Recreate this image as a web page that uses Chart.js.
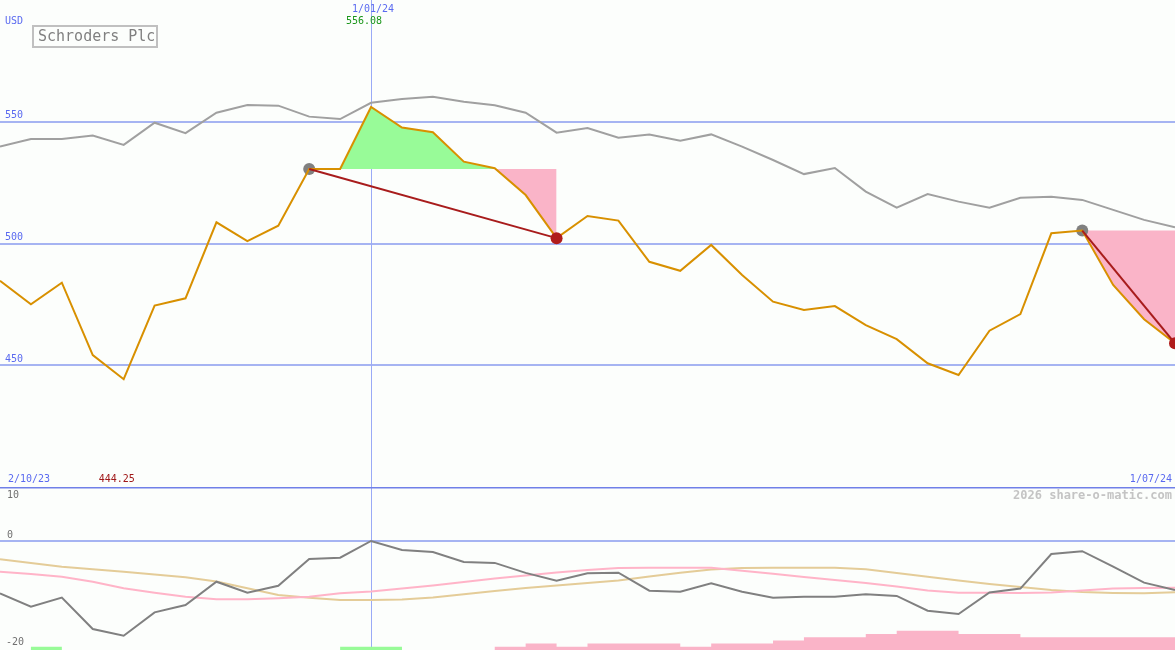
<!DOCTYPE html>
<html>
<head>
<meta charset="utf-8">
<title>Schroders Plc</title>
<script src="https://cdn.jsdelivr.net/npm/chart.js@4.4.1/dist/chart.umd.min.js"></script>
<style>
  html, body { margin: 0; padding: 0; background: #fcfefc; }
  #wrap { position: relative; width: 1175px; height: 650px; overflow: hidden; }
  canvas { position: absolute; left: 0; }
  #top { top: 0; }
  #bottom { top: 487px; }
</style>
</head>
<body>
<div id="wrap">
  <canvas id="top" width="1175" height="487"></canvas>
  <canvas id="bottom" width="1175" height="163"></canvas>
</div>
<script>
// weekly closes, USD
var price = [484.7, 475.0, 483.9, 454.2, 444.25, 474.5, 477.5, 508.7, 501.0, 507.3,
             530.6, 530.6, 556.08, 547.6, 545.7, 533.6, 530.9, 519.9, 502.2, 511.3,
             509.4, 492.5, 488.8, 499.4, 487.1, 476.1, 472.7, 474.3, 466.5, 460.7,
             450.8, 446.0, 464.2, 471.0, 504.2, 505.3, 483.0, 468.9, 459.0];
// grey comparison line
var bench = [539.8, 542.9, 542.9, 544.3, 540.5, 549.6, 545.3, 553.7, 556.9, 556.6,
             552.1, 551.1, 557.8, 559.3, 560.3, 558.2, 556.8, 553.7, 545.5, 547.4,
             543.4, 544.8, 542.2, 544.8, 539.8, 534.3, 528.5, 531.0, 521.3, 514.7,
             520.3, 517.2, 514.7, 518.8, 519.2, 517.9, 513.8, 509.7, 506.7];
// lower panel
var relLine = [-11.0, -13.8, -11.9, -18.5, -19.9, -15.0, -13.45, -8.55, -10.85, -9.4,
               -3.8, -3.5, 0, -1.9, -2.3, -4.4, -4.6, -6.7, -8.35, -6.8,
               -6.65, -10.45, -10.65, -8.9, -10.65, -11.9, -11.7, -11.7, -11.2, -11.55,
               -14.65, -15.35, -10.8, -10.0, -2.75, -2.15, -5.4, -8.75, -10.3];
var pinkAvg = [-6.45, -6.93, -7.5, -8.55, -9.94, -10.86, -11.7, -12.25, -12.25, -12.04,
               -11.7, -10.99, -10.61, -9.98, -9.35, -8.61, -7.88, -7.25, -6.62, -6.09,
               -5.67, -5.61, -5.61, -5.61, -6.24, -6.87, -7.56, -8.19, -8.82, -9.56,
               -10.4, -10.86, -10.86, -10.92, -10.82, -10.4, -9.98, -9.87, -9.81];
var tanAvg = [-3.84, -4.62, -5.4, -5.92, -6.45, -7.04, -7.63, -8.51, -9.94, -11.34,
              -11.91, -12.39, -12.39, -12.29, -11.87, -11.2, -10.5, -9.87, -9.35, -8.82,
              -8.3, -7.46, -6.66, -5.99, -5.67, -5.61, -5.61, -5.61, -5.95, -6.72,
              -7.5, -8.3, -9.03, -9.66, -10.29, -10.71, -10.92, -10.99, -10.78];
var greenBars = [0, 1, 0, 0, 0, 0, 0, 0, 0, 0, 0, 1, 1, 0, 0, 0, 0, 0, 0, 0,
                 0, 0, 0, 0, 0, 0, 0, 0, 0, 0, 0, 0, 0, 0, 0, 0, 0, 0, 0];
var pinkBars = [0, 0, 0, 0, 0, 0, 0, 0, 0, 0, 0, 0, 0, 0, 0, 0, 1, 2, 1, 2,
                2, 2, 1, 2, 2, 3, 4, 4, 5, 6, 6, 5, 5, 4, 4, 4, 4, 4, 4];

var priceTicks = [450, 500, 550];
var lowTicks = [10, 0, -20];
var firstDate = '2/10/23', markDate = '1/01/24', lastDate = '1/07/24';
var markIdx = 12, lowIdx = 4;
var peaks = [10, 35], troughs = [18, 38];

var labels = price.map(function(v, i) { return String(i); });
var mono = '"DejaVu Sans Mono", "Liberation Mono", monospace';
var blue = '#5a6af0', gridBlue = '#a6b4f2', vBlue = '#9aaaf6';
var pinkFill = '#fab4c8', greenFill = '#98fb98';

function segment(idxA, idxB, vA, vB) {
  return price.map(function(v, i) { return i === idxA ? vA : (i === idxB ? vB : null); });
}
function level(a, b) {
  return price.map(function(v, i) { return (i >= a && i <= b) ? price[a] : null; });
}

var topDatasets = [
  { data: bench, borderColor: '#a0a0a0', borderWidth: 2, order: 6 },
  { data: price, borderColor: '#d89000', borderWidth: 2, order: 2 }
];
peaks.forEach(function(p, k) {
  var t = troughs[k];
  topDatasets.push({ data: level(p, t), borderWidth: 0, borderColor: 'rgba(0,0,0,0)',
    fill: { target: 1, above: pinkFill, below: greenFill }, order: 4 });
  topDatasets.push({ data: segment(p, -1, price[p], null), showLine: false,
    pointRadius: 6, pointBackgroundColor: '#808080', pointBorderWidth: 0, order: 3 });
  topDatasets.push({ data: segment(p, t, price[p], price[t]), spanGaps: true,
    borderColor: '#a81c1c', borderWidth: 2,
    pointRadius: function(c) { return c.dataIndex === t ? 6 : 0; },
    pointBackgroundColor: '#b01c1c', pointBorderWidth: 0, order: 1 });
});

var topPlugin = {
  id: 'topDecor',
  beforeDatasetsDraw: function(chart) {
    var ctx = chart.ctx, x = chart.scales.x, y = chart.scales.y;
    ctx.save();
    ctx.strokeStyle = gridBlue; ctx.lineWidth = 2;
    priceTicks.forEach(function(t) {
      var py = Math.round(y.getPixelForValue(t));
      ctx.beginPath(); ctx.moveTo(0, py); ctx.lineTo(chart.width, py); ctx.stroke();
    });
    var px = Math.round(x.getPixelForValue(markIdx)) + 0.5;
    ctx.strokeStyle = vBlue; ctx.lineWidth = 1;
    ctx.beginPath(); ctx.moveTo(px, 0); ctx.lineTo(px, chart.height); ctx.stroke();
    ctx.restore();
  },
  afterDraw: function(chart) {
    var ctx = chart.ctx, x = chart.scales.x, y = chart.scales.y;
    ctx.save();
    ctx.textBaseline = 'middle';
    ctx.font = '10px ' + mono;
    ctx.fillStyle = blue;
    ctx.fillText('USD', 5, 21);
    priceTicks.forEach(function(t) {
      ctx.fillText(String(t), 5, y.getPixelForValue(t) - 6);
    });
    var px = x.getPixelForValue(markIdx);
    ctx.textAlign = 'center';
    ctx.fillText(markDate, px + 2, 9);
    ctx.fillStyle = '#1a961a';
    ctx.fillText(price[markIdx].toFixed(2), px - 7, 21);
    ctx.textAlign = 'left';
    ctx.fillStyle = blue;
    ctx.fillText(firstDate, 8, 479);
    ctx.fillStyle = '#a01818';
    ctx.fillText(price[lowIdx].toFixed(2), x.getPixelForValue(lowIdx) - 25, 479);
    ctx.textAlign = 'right';
    ctx.fillStyle = blue;
    ctx.fillText(lastDate, 1172, 479);
    // title box
    ctx.strokeStyle = '#c0c0c0'; ctx.lineWidth = 2;
    ctx.strokeRect(33, 26, 124, 21);
    ctx.textAlign = 'left';
    ctx.fillStyle = '#808080';
    ctx.font = '15px ' + mono;
    ctx.fillText('Schroders Plc', 38, 37);
    ctx.restore();
  }
};

new Chart(document.getElementById('top'), {
  type: 'line',
  data: { labels: labels, datasets: topDatasets },
  options: {
    responsive: false, animation: false, devicePixelRatio: 1, events: [],
    layout: { padding: 0, autoPadding: false },
    elements: { point: { radius: 0 }, line: { tension: 0 } },
    plugins: { legend: { display: false }, tooltip: { enabled: false } },
    scales: {
      x: { display: false, offset: false },
      y: { display: false, min: 400, max: 600 }
    }
  },
  plugins: [topPlugin]
});

var lowPlugin = {
  id: 'lowDecor',
  beforeDatasetsDraw: function(chart) {
    var ctx = chart.ctx, x = chart.scales.x, y = chart.scales.y;
    ctx.save();
    var py = Math.round(y.getPixelForValue(0));
    ctx.strokeStyle = gridBlue; ctx.lineWidth = 2;
    ctx.beginPath(); ctx.moveTo(0, py); ctx.lineTo(chart.width, py); ctx.stroke();
    var px = Math.round(x.getPixelForValue(markIdx)) + 0.5;
    ctx.strokeStyle = vBlue; ctx.lineWidth = 1;
    ctx.beginPath(); ctx.moveTo(px, 0); ctx.lineTo(px, chart.height); ctx.stroke();
    ctx.restore();
  },
  afterDraw: function(chart) {
    var ctx = chart.ctx, y = chart.scales.y;
    ctx.save();
    ctx.strokeStyle = '#7080e8'; ctx.lineWidth = 2;
    ctx.beginPath(); ctx.moveTo(0, 0.5); ctx.lineTo(chart.width, 0.5); ctx.stroke();
    ctx.textBaseline = 'middle';
    ctx.font = '10px ' + mono;
    ctx.fillStyle = '#707070';
    ctx.fillText(String(lowTicks[0]), 7, y.getPixelForValue(lowTicks[0]) + 2);
    ctx.fillText(String(lowTicks[1]), 7, y.getPixelForValue(lowTicks[1]) - 6);
    ctx.fillText(String(lowTicks[2]), 6, y.getPixelForValue(lowTicks[2]) + 6);
    ctx.textAlign = 'right';
    ctx.fillStyle = '#c4c4c4';
    ctx.font = 'bold 12px ' + mono;
    ctx.fillText('2026 share-o-matic.com', 1172, 9);
    ctx.restore();
  }
};

new Chart(document.getElementById('bottom'), {
  type: 'line',
  data: {
    labels: labels,
    datasets: [
      { data: relLine, borderColor: '#808080', borderWidth: 2, order: 1 },
      { data: pinkAvg, borderColor: '#ffb4c8', borderWidth: 2, order: 2 },
      { data: tanAvg, borderColor: '#e4cc98', borderWidth: 2, order: 3 },
      { data: greenBars, yAxisID: 'yb', stepped: true, borderWidth: 0,
        borderColor: 'rgba(0,0,0,0)', fill: { target: 'origin', above: greenFill }, order: 5 },
      { data: pinkBars, yAxisID: 'yb', stepped: true, borderWidth: 0,
        borderColor: 'rgba(0,0,0,0)', fill: { target: 'origin', above: pinkFill }, order: 5 }
    ]
  },
  options: {
    responsive: false, animation: false, devicePixelRatio: 1, events: [],
    layout: { padding: 0, autoPadding: false },
    elements: { point: { radius: 0 }, line: { tension: 0 } },
    plugins: { legend: { display: false }, tooltip: { enabled: false } },
    scales: {
      x: { display: false, offset: false },
      y: { display: false, min: -22.9, max: 11.34 },
      yb: { display: false, min: 0, max: 51 }
    }
  },
  plugins: [lowPlugin]
});
</script>
</body>
</html>
